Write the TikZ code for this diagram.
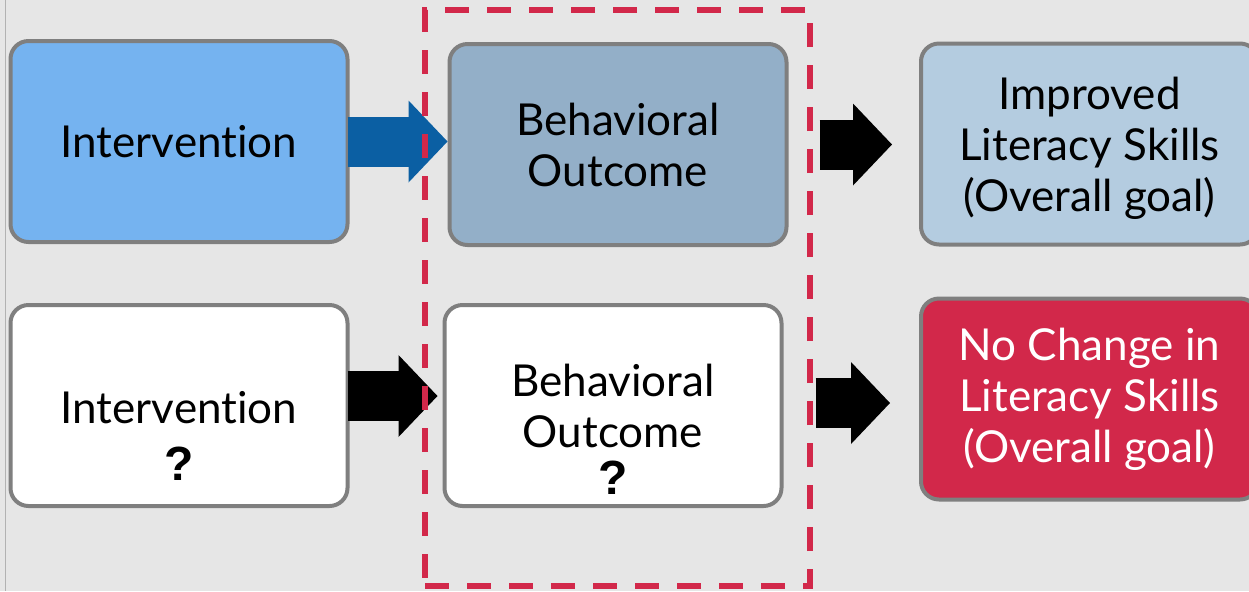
\documentclass[tikz,border=0pt]{standalone}
\usepackage{fontspec}
\setmainfont{Lato}[Ligatures=NoCommon]
\newfontfamily\qmark{Liberation Sans}
\usetikzlibrary{arrows.meta}

\definecolor{bggray}{HTML}{E6E6E6}
\definecolor{edgegray}{HTML}{7F7F7F}
\definecolor{intblue}{HTML}{75B3F0}
\definecolor{behblue}{HTML}{93AFC8}
\definecolor{goalblue}{HTML}{B4CCE0}
\definecolor{goalred}{HTML}{D2284A}
\definecolor{arrowblue}{HTML}{0B5FA3}

\begin{document}
\begin{tikzpicture}[x=0.5pt,y=-0.5pt,
  lbl/.style={align=center,inner sep=0pt,font=\fontsize{22}{25.5}\selectfont},
  box/.style={lbl,draw=edgegray,line width=2pt,rounded corners=9pt,
    minimum width=168.5pt,minimum height=100.5pt},
  fat/.style={line width=25pt,-{Triangle[width=41pt,length=19.5pt,line width=0pt]}}]

% slide background
\useasboundingbox (0,0) rectangle (1249,591);
\clip (0,0) rectangle (1249,591);
\fill[bggray] (0,0) rectangle (1249,591);
\draw[line width=0.5pt,black!30] (5,0) -- (5,591);

% top row: intervention node
\node[box,fill=intblue] (int1) at (179,141.5) {Intervention};

% top row: behavioral outcome node
\node[box,fill=behblue] (beh1) at (618,144.5) {Behavioral\\Outcome};

% top row: goal node
\node[box,fill=goalblue] (goal1) at (1089.5,144) {};
\node[lbl] (goal1 text) at (1089.5,148) {Improved\\Literacy Skills\\(Overall goal)};

% bottom row: intervention node
\node[box,fill=white] (int2) at (179,405.5) {};
\node[lbl] (int2 text) at (179,436) {Intervention\\[3pt]{\qmark\bfseries\fontsize{24}{25}\selectfont ?}};

% bottom row: behavioral outcome node
\node[box,fill=white] (beh2) at (613,405.5) {};
\node[lbl] (beh2 text) at (613,429) {Behavioral\\Outcome\\[-2pt]{\qmark\bfseries\fontsize{24}{25}\selectfont ?}};

% bottom row: goal node
\node[box,fill=goalred,text=white] (goal2) at (1089.5,399) {No Change in\\Literacy Skills\\(Overall goal)};

% block arrows
\draw[fat,arrowblue,shorten <=-1pt] (int1.east) -- (int1.east -| beh1.west);
\draw[fat,black,shorten <=-1pt,shorten >=2.5pt] ([yshift=4.75pt]int2.east) -- ([yshift=4.75pt]int2.east -| beh2.west);
\draw[fat,black,shorten <=15.5pt,shorten >=13.5pt] (beh1.east) -- (beh1.east -| goal1.west);
\draw[fat,black,shorten <=16pt,shorten >=14.5pt] ([yshift=1.25pt]beh2.east) -- ([yshift=1.25pt]beh2.east -| goal2.west);

% dashed focus frame
\node[draw=goalred,line width=3pt,dash pattern=on 12pt off 9pt,
  minimum width=192.5pt,minimum height=288pt,inner sep=0pt] (focus) at (617.5,298) {};

\end{tikzpicture}
\end{document}
